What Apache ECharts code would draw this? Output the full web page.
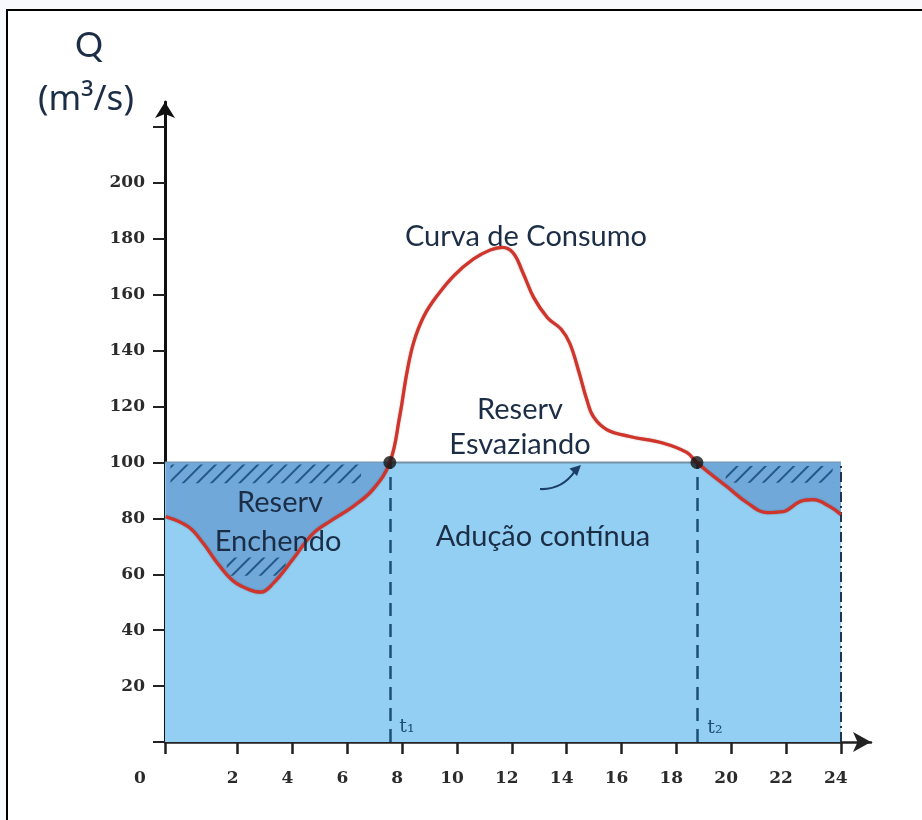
<!DOCTYPE html>
<html>
<head>
<meta charset="utf-8">
<script src="https://cdn.jsdelivr.net/npm/echarts@6/dist/echarts.min.js"></script>
<style>
  html, body { margin: 0; padding: 0; background: #f8f9fc; }
  #frame { position: absolute; left: 6px; top: 9px; width: 930px; height: 830px; background: #ffffff; border-top: 2px solid #000; border-left: 2px solid #000; }
  #chart { position: absolute; left: 0; top: 0; width: 922px; height: 820px; }
</style>
</head>
<body>
<div id="frame"></div>
<div id="chart"></div>
<script>
// ---- data (hours, Q in m3/s) ----
const yAxisHour = -0.65;              // hour value where the Q axis is drawn
const supplyLevel = 100;              // continuous supply (adução contínua)
const t1 = 7.55;
const t2 = 18.75;
const dayEnd = 24;

const hoursFilling = [-0.62, 0.2, 0.75, 1.3, 1.85, 2.4, 2.85, 3.3, 4.0, 4.74, 5.47, 6.2, 6.93, 7.55];
const flowFilling  = [80.6, 77.0, 71.0, 63.5, 57.5, 54.6, 53.6, 56.8, 65.2, 74.5, 79.6, 84.2, 90.3, 100];

const hoursPeak = [7.91, 8.17, 8.42, 8.8, 9.3, 9.9, 10.6, 11.2, 11.65, 12.05, 12.4, 12.8, 13.3, 13.8, 14.12, 14.45, 14.73, 14.98, 15.46, 16.3, 17.5, 18.38];
const flowPeak  = [116.5, 132.0, 143.0, 152.5, 160.0, 167.0, 172.8, 176.0, 177.0, 175.0, 168.0, 159.0, 151.8, 147.7, 142.5, 132.3, 122.6, 116.3, 111.8, 109.3, 107.0, 103.6];

const hoursEvening = [18.75, 19.23, 19.84, 20.57, 21.3, 21.88, 22.5, 22.98, 23.6, 24.0];
const flowEvening  = [100, 96.1, 91.4, 85.7, 82.1, 82.4, 86, 86.7, 84.2, 81.4];

// hatch bands: [hourStart, hourEnd, qTop, qBottom]
const hatchBands = [
  [-0.45, 6.5, 99.3, 92.6],
  [19.8, 23.7, 98.8, 92.8],
  [1.6, 3.75, 66.0, 59.5]
];

const xTickValues = [2, 4, 6, 8, 10, 12, 14, 16, 18, 20, 22, 24];
const xLabelValues = [2, 4, 6, 8, 10, 12, 14, 16, 18, 20, 22, 24];
const xOriginLabel = '0';
const yTickValues = [0, 20, 40, 60, 80, 100, 120, 140, 160, 180, 200, 220];
const yLabelValues = [20, 40, 60, 80, 100, 120, 140, 160, 180, 200];

// ---- build ----
const zip = (xs, ys) => xs.map((x, i) => [x, ys[i]]);
const curve = zip(hoursFilling, flowFilling)
  .concat(zip(hoursPeak, flowPeak))
  .concat(zip(hoursEvening, flowEvening));

const hatchDecal = {
  symbol: 'rect', symbolSize: 1, color: '#24578a', backgroundColor: 'rgba(0,0,0,0)',
  dashArrayX: [1, 0], dashArrayY: [2, 8], rotation: -Math.PI / 4
};

const hatchSeries = hatchBands.map(b => ({
  type: 'line', z: 4, silent: true, symbol: 'none',
  data: [[b[0], b[2]], [b[1], b[2]]],
  lineStyle: { width: 0, color: 'rgba(0,0,0,0)' },
  itemStyle: { color: 'rgba(0,0,0,0)', decal: hatchDecal },
  areaStyle: { color: 'rgba(0,0,0,0)', origin: b[3], opacity: 1 }
}));

const smoothOpts = { smooth: 0.4 };

const chart = echarts.init(document.getElementById('chart'), null, { renderer: 'canvas' });
const labelFont = { fontFamily: 'DejaVu Serif', fontWeight: 'bold', fontSize: 17, color: '#2b2b2b' };
const textColor = '#1c2e46';
const annFont = 'Lato';

chart.setOption({
  backgroundColor: 'rgba(0,0,0,0)',
  animation: false,
  grid: { left: 165, top: 102, right: 51, bottom: 78 },
  xAxis: {
    type: 'value', min: yAxisHour, max: 25.1,
    splitLine: { show: false },
    axisLine: { show: true, onZero: false, lineStyle: { color: '#222', width: 2.5 }, symbol: ['none', 'arrow'], symbolSize: [15, 18] },
    axisTick: { show: true, length: 12, lineStyle: { color: '#222', width: 2.5 }, customValues: [yAxisHour].concat(xTickValues) },
    axisLabel: {
      show: true, margin: 28,
      customValues: [yAxisHour].concat(xLabelValues),
      formatter: v => v < 0 ? '{z|' + xOriginLabel + '}' : '{n|' + v + '}',
      rich: {
        z: Object.assign({ padding: [0, 50, 0, 0] }, labelFont),
        n: Object.assign({ padding: [0, 10, 0, 0] }, labelFont)
      }
    }
  },
  yAxis: {
    type: 'value', min: 0, max: 229,
    splitLine: { show: false },
    axisLine: { show: true, onZero: false, lineStyle: { color: '#111', width: 3 }, symbol: ['none', 'arrow'], symbolSize: [15, 16] },
    axisTick: { show: true, length: 12, lineStyle: { color: '#222', width: 2 }, customValues: yTickValues },
    axisLabel: Object.assign({ show: true, margin: 20, customValues: yLabelValues }, labelFont)
  },
  series: [
    {
      name: 'Adução contínua', type: 'line', z: 2, silent: true, symbol: 'none',
      data: [[yAxisHour, supplyLevel], [dayEnd, supplyLevel]],
      lineStyle: { color: '#7492a8', width: 2 },
      areaStyle: { color: '#93cff3', opacity: 1, origin: 'start' },
      markLine: {
        silent: true, symbol: 'none', label: { show: false },
        lineStyle: { color: '#1f4f78', width: 2.5, type: [13, 8] },
        data: [
          [{ coord: [t1, 0] }, { coord: [t1, supplyLevel] }],
          [{ coord: [t2, 0] }, { coord: [t2, supplyLevel] }],
          [{ coord: [dayEnd, 0], lineStyle: { color: '#1d3550', width: 2, type: [10, 4, 2, 4] } }, { coord: [dayEnd, supplyLevel] }]
        ]
      }
    },
    Object.assign({
      name: 'Reserv Enchendo', type: 'line', z: 3, silent: true, symbol: 'none',
      data: zip(hoursFilling, flowFilling),
      lineStyle: { width: 0, color: 'rgba(0,0,0,0)' },
      areaStyle: { color: '#70a8d9', opacity: 1, origin: supplyLevel }
    }, smoothOpts),
    Object.assign({
      name: 'Reserv Enchendo 2', type: 'line', z: 3, silent: true, symbol: 'none',
      data: zip(hoursEvening, flowEvening),
      lineStyle: { width: 0, color: 'rgba(0,0,0,0)' },
      areaStyle: { color: '#70a8d9', opacity: 1, origin: supplyLevel }
    }, smoothOpts)
  ].concat(hatchSeries).concat([
    Object.assign({
      name: 'Curva de Consumo', type: 'line', z: 6, silent: true, symbol: 'none',
      data: curve,
      lineStyle: { color: '#d0342b', width: 3.2, shadowColor: 'rgba(120,20,10,0.5)', shadowBlur: 1.5 }
    }, smoothOpts),
    {
      name: 'pontos', type: 'scatter', z: 7, silent: true, symbolSize: 13,
      data: [[t1, supplyLevel], [t2, supplyLevel]],
      itemStyle: { color: '#141414' }
    }
  ]),
  graphic: [
    { type: 'text', z: 100, style: { text: 'Q', x: 89, y: 46, align: 'center', verticalAlign: 'middle', font: '35px ' + annFont, fill: textColor } },
    { type: 'text', z: 100, style: { text: '(m³/s)', x: 86, y: 100, align: 'center', verticalAlign: 'middle', font: '35px Noto Sans', fill: textColor } },
    { type: 'text', z: 100, style: { text: 'Curva de Consumo', x: 526, y: 237, align: 'center', verticalAlign: 'middle', font: '29px ' + annFont, fill: textColor } },
    { type: 'text', z: 100, style: { text: 'Reserv', x: 520, y: 410, align: 'center', verticalAlign: 'middle', font: '29px ' + annFont, fill: textColor } },
    { type: 'text', z: 100, style: { text: 'Esvaziando', x: 520, y: 445, align: 'center', verticalAlign: 'middle', font: '29px ' + annFont, fill: textColor } },
    { type: 'text', z: 100, style: { text: 'Reserv', x: 280, y: 503, align: 'center', verticalAlign: 'middle', font: '29px ' + annFont, fill: textColor } },
    { type: 'text', z: 100, style: { text: 'Enchendo', x: 278, y: 542, align: 'center', verticalAlign: 'middle', font: '29px ' + annFont, fill: textColor } },
    { type: 'text', z: 100, style: { text: 'Adução contínua', x: 543, y: 537, align: 'center', verticalAlign: 'middle', font: '29px ' + annFont, fill: textColor } },
    { type: 'text', z: 100, style: { text: 't₁', x: 407, y: 727, align: 'center', verticalAlign: 'middle', font: '19px DejaVu Serif', fill: '#1f4f78' } },
    { type: 'text', z: 100, style: { text: 't₂', x: 715, y: 728, align: 'center', verticalAlign: 'middle', font: '19px DejaVu Serif', fill: '#1f4f78' } },
    { type: 'bezierCurve', z: 100, shape: { x1: 540, y1: 489, cpx1: 562, cpy1: 490, x2: 575, y2: 471 }, style: { stroke: '#1c3f66', lineWidth: 2.2, fill: null } },
    { type: 'polygon', z: 100, shape: { points: [[581, 465], [577, 476], [569.5, 468.5]] }, style: { fill: '#1c3f66' } }
  ]
});
</script>
</body>
</html>
